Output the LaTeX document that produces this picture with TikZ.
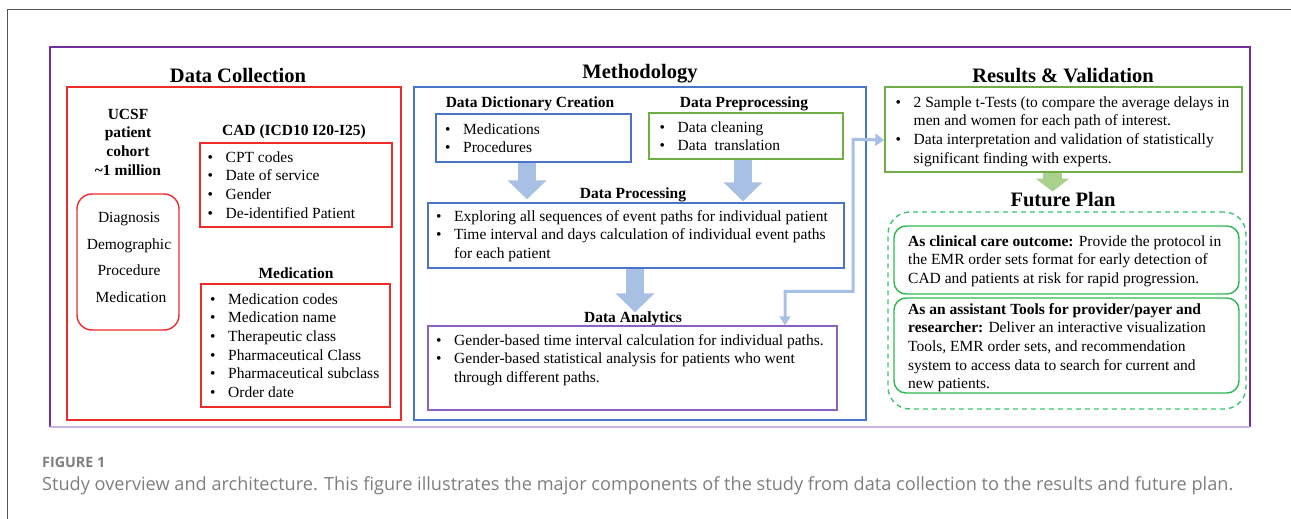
\documentclass[tikz,border=0pt]{standalone}
\usepackage{fontspec}
\usepackage{graphicx}
\setmainfont{Liberation Serif}
\newfontfamily\capfont{Open Sans}
\usetikzlibrary{arrows.meta,fit,calc}
\definecolor{pur}{HTML}{7030A0}
\definecolor{lav}{HTML}{C9B3E6}
\definecolor{rd}{HTML}{EE2B2B}
\definecolor{bl}{HTML}{4A74C9}
\definecolor{gr}{HTML}{70AD47}
\definecolor{anapur}{HTML}{9060C0}
\definecolor{fgreen}{HTML}{2DB84F}
\definecolor{dgreen}{HTML}{3CC46E}
\definecolor{arrbl}{HTML}{A9C0E5}
\definecolor{arrgr}{HTML}{A9D18E}
\definecolor{capgray}{HTML}{7E7E7E}
\definecolor{framegray}{HTML}{555555}
\newcommand{\itm}[1]{\makebox[18pt][l]{\textbullet}#1}
\newcommand{\cnt}[1]{\hspace*{18pt}#1}
\newcommand{\lst}[1]{\begin{tabular}[t]{@{}l@{}}#1\end{tabular}}
\tikzset{
  boxbase/.style={draw, line width=1.4pt, inner sep=0pt},
  rbox/.style={boxbase, draw=rd},
  bbox/.style={boxbase, draw=bl},
  gbox/.style={boxbase, draw=gr},
  abox/.style={boxbase, draw=anapur},
  fbox/.style={boxbase, draw=fgreen, rounded corners=12pt},
  ttl/.style={font=\fontsize{20.5}{24}\selectfont\bfseries, anchor=base, inner sep=0pt},
  sub/.style={font=\fontsize{15.5}{18.7}\selectfont\bfseries, anchor=base, inner sep=0pt},
  body/.style={font=\fontsize{15.5}{18.7}\selectfont, anchor=base west, inner sep=0pt},
  bigarrow/.style={draw=arrbl, line width=18pt, -{Triangle[width=38pt,length=19pt]}},
  garrow/.style={draw=arrgr, line width=19pt, -{Triangle[width=33pt,length=13pt]}},
  elbow/.style={draw=arrbl, line width=3pt, {Triangle[width=11pt,length=9pt]}-{Triangle[width=12pt,length=9pt]}},
}
\begin{document}
\begin{tikzpicture}[x=1pt,y=-1pt]
\useasboundingbox (0,0) rectangle (1291,519);
% outer frame
\draw[framegray, line width=1pt] (7,530) -- (7,10) -- (1300,10);
% purple frame
\draw[pur, line width=1.6pt] (50,427) -- (50,47) -- (1250,47) -- (1250,427);
\draw[lav, line width=1.6pt] (50,427) -- (1250,427);

% ---------------- Data Collection
\node[ttl] (tdc) at (238,82) {Data Collection};
\node[rbox, fit={(67,87)(401,420)}] (dc) {};
\node[sub, align=center] (ucsf) at (128,119) {\lst{\multicolumn{1}{@{}c@{}}{UCSF}\\ \multicolumn{1}{@{}c@{}}{patient}\\ \multicolumn{1}{@{}c@{}}{cohort}\\ \multicolumn{1}{@{}c@{}}{\textasciitilde 1 million}}};
\node[rbox, rounded corners=15pt, fit={(77,194)(179,330)}] (cat) {};
\node[font=\fontsize{15.5}{18.7}\selectfont, anchor=base, inner sep=0pt] (c1) at (129,222) {Diagnosis};
\node[font=\fontsize{15.5}{18.7}\selectfont, anchor=base, inner sep=0pt] (c2) at (129,249) {Demographic};
\node[font=\fontsize{15.5}{18.7}\selectfont, anchor=base, inner sep=0pt] (c3) at (129,275) {Procedure};
\node[font=\fontsize{15.5}{18.7}\selectfont, anchor=base, inner sep=0pt] (c4) at (131,302) {Medication};

\node[sub] (tcad) at (294,135) {CAD (ICD10 I20-I25)};
\node[rbox, fit={(200,143)(392,227)}] (cad) {};
\node[body] (cadl) at (207.5,162) {\lst{\itm{CPT codes}\\ \itm{Date of service}\\ \itm{Gender}\\ \itm{De-identified Patient}}};

\node[sub] (tmed) at (296,278) {Medication};
\node[rbox, fit={(201,284)(390,407)}] (med) {};
\node[body] (medl) at (210,304) {\lst{\itm{Medication codes}\\ \itm{Medication name}\\ \itm{Therapeutic class}\\ \itm{Pharmaceutical Class}\\ \itm{Pharmaceutical subclass}\\ \itm{Order date}}};

% ---------------- Methodology
\node[ttl] (tme) at (640,79) {Methodology};
\node[bbox, fit={(414,87)(866,420)}] (me) {};

\node[sub] (tdict) at (530,107) {Data Dictionary Creation};
\node[bbox, fit={(436,114)(631,162)}] (dict) {};
\node[body] (dictl) at (445,134) {\lst{\itm{Medications}\\ \itm{Procedures}}};

\node[sub] (tpre) at (744,107) {Data Preprocessing};
\node[gbox, fit={(649,113)(843,159)}] (pre) {};
\node[body] (prel) at (659.5,132) {\lst{\itm{Data cleaning}\\ \itm{Data\ \ translation}}};

\node[sub] (tproc) at (633,198) {Data Processing};
\node[bbox, fit={(428,203)(844,268)}] (proc) {};
\node[body] (procl) at (436,221) {\lst{\itm{Exploring all sequences of event paths for individual patient}\\ \itm{Time interval and days calculation of individual event paths}\\ \cnt{for each patient}}};

\node[sub] (tana) at (633,322) {Data Analytics};
\node[abox, fit={(428,326)(837,410)}] (ana) {};
\node[body] (anal) at (436,345) {\lst{\itm{Gender-based time interval calculation for individual paths.}\\ \itm{Gender-based statistical analysis for patients who went}\\ \cnt{through different paths.}}};

% ---------------- Results
\node[ttl] (tres) at (1063,82) {Results \& Validation};
\node[gbox, fit={(885,87)(1242,172)}] (res) {};
\node[body] (resl) at (895.5,107) {\lst{\itm{2 Sample t-Tests (to compare the average delays in}\\ \cnt{men and women for each path of interest.}\\ \itm{Data interpretation and validation of statistically}\\ \cnt{significant finding with experts.}}};

\node[ttl] (tfp) at (1063,206) {Future Plan};
\node[boxbase, draw=dgreen, dashed, dash pattern=on 5pt off 4pt, rounded corners=22pt, fit={(888,212)(1246,409)}] (fp) {};
\node[fbox, fit={(894,226)(1239,294)}] (fp1) {};
\node[body] (fp1l) at (908,246) {\lst{\textbf{As clinical care outcome:} Provide the protocol in\\ the EMR order sets format for early detection of\\ CAD and patients at risk for rapid progression.}};
\node[fbox, fit={(894,298)(1239,393)}] (fp2) {};
\node[body] (fp2l) at (908,314) {\lst{\textbf{As an assistant Tools for provider/payer and}\\ \textbf{researcher:} Deliver an interactive visualization\\ Tools, EMR order sets, and recommendation\\ system to access data to search for current and\\ new patients.}};

% ---------------- arrows
\draw[bigarrow] ([xshift=-6.5pt]dict.south) -- ([xshift=-6.5pt,yshift=3pt]dict.south |- proc.north);
\draw[bigarrow] ([xshift=-3pt]pre.south) -- ([xshift=-3pt,yshift=1pt]pre.south |- proc.north);
\draw[bigarrow] ([xshift=-1pt]proc.south) -- ([xshift=-1pt,yshift=13pt]proc.south |- ana.north);
\draw[garrow] ([xshift=-11pt]res.south) -- ([xshift=-11pt]res.south |- tfp.north);
\draw[elbow] ([xshift=152.5pt]ana.north) -- ++(0,-34) -- ++(68,0) -- ++(0,-152) -- ([yshift=-10.5pt]res.west);

% ---------------- caption
\node[anchor=base west, inner sep=0pt, text=capgray] (fig) at (42,467) {\resizebox{63pt}{!}{\capfont\bfseries FIGURE 1}};
\node[anchor=base west, inner sep=0pt, text=capgray] (cap) at (42,490) {\resizebox{1191pt}{!}{\capfont Study overview and architecture. This figure illustrates the major components of the study from data collection to the results and future plan.}};
\end{tikzpicture}
\end{document}
